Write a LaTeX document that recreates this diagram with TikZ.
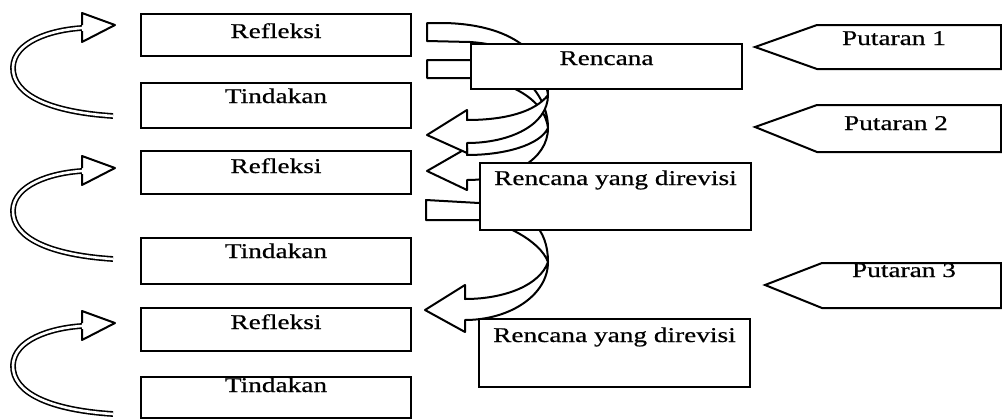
\documentclass[tikz,border=0pt]{standalone}
\usepackage{fontspec}
\setmainfont{Liberation Serif}[FakeStretch=1.3,FakeBold=0.6]
\usetikzlibrary{calc}
\begin{document}
\begin{tikzpicture}[x=1pt,y=-1pt,
  box/.style={draw, line width=2pt, fill=white, inner sep=0pt, anchor=north west},
  txt/.style={font=\fontsize{21pt}{24pt}\selectfont, inner sep=0pt, anchor=base},
  ol/.style={draw, line width=2pt, fill=white, line join=round},
  shaft/.style={line width=1.6pt, double=white, double distance=2.6pt}]
\useasboundingbox (0,0) rectangle (1002,418);

% left curved arrows (Tindakan -> Refleksi)
\foreach \d/\n in {0/1,143/2,298/3}{
  \coordinate (cs\n) at (113,116+\d);
  \coordinate (ce\n) at (82,28+\d);
  \draw[shaft] (cs\n) .. controls (50,112+\d) and (12,95+\d) .. (13,67+\d)
     .. controls (14,42+\d) and (50,30+\d) .. (ce\n);
  \path[ol] (82,25+\d) -- (82,13+\d) -- (115,25+\d) -- (82,42+\d) -- (82,31+\d);
}

% middle curved block arrows
\path[ol] (427,60) -- (470,60) .. controls (520,62) and (548,95) .. (548,128)
  .. controls (548,160) and (510,180) .. (467,180) -- (467,190) -- (427,171) -- (467,148) -- (467,155)
  .. controls (505,155) and (540,145) .. (548,128)
  .. controls (545,100) and (510,80) .. (470,78) -- (427,78) -- cycle;
\path[ol] (427,23) -- (445,23) .. controls (520,25) and (548,60) .. (548,95)
  .. controls (548,125) and (510,143) .. (467,143) -- (467,153) -- (427,135) -- (467,110) -- (467,120)
  .. controls (505,120) and (535,112) .. (548,95)
  .. controls (545,70) and (520,45) .. (470,42) -- (427,41) -- cycle;
\path[ol] (426,200) -- (479,203) .. controls (530,206) and (548,230) .. (548,262)
  .. controls (548,295) and (510,320) .. (465,320) -- (465,332) -- (425,310) -- (465,285) -- (465,299)
  .. controls (505,299) and (540,285) .. (548,262)
  .. controls (540,240) and (500,221) .. (479,220) -- (426,220) -- cycle;

% Putaran pentagons
\path[ol, line join=miter] (1001,25) -- (817,25) -- (755,47) -- (817,69) -- (1001,69) -- cycle;
\path[ol, line join=miter] (1001,105) -- (817,105) -- (755,127) -- (817,152) -- (1001,152) -- cycle;
\path[ol, line join=miter] (1001,263) -- (822,263) -- (765,285) -- (822,308) -- (1001,308) -- cycle;
\node[txt] (p1) at (894,45) {Putaran 1};
\node[txt] (p2) at (896,130) {Putaran 2};
\node[txt] (p3) at (904,277) {Putaran 3};

% left boxes
\node[box, minimum width=270pt, minimum height=42pt] (r1) at (140,13) {};
\node[box, minimum width=270pt, minimum height=45pt] (t1) at (140,82) {};
\node[box, minimum width=270pt, minimum height=43pt] (r2) at (140,150) {};
\node[box, minimum width=270pt, minimum height=46pt] (t2) at (140,237) {};
\node[box, minimum width=270pt, minimum height=43pt] (r3) at (140,307) {};
\node[box, minimum width=270pt, minimum height=41pt] (t3) at (140,376) {};
\node[txt] (r1t) at ($(r1.north)+(0,25)$) {Refleksi};
\node[txt] (t1t) at ($(t1.north)+(0,21)$) {Tindakan};
\node[txt] (r2t) at ($(r2.north)+(0,23)$) {Refleksi};
\node[txt] (t2t) at ($(t2.north)+(0,21)$) {Tindakan};
\node[txt] (r3t) at ($(r3.north)+(0,22)$) {Refleksi};
\node[txt] (t3t) at ($(t3.north)+(0,16)$) {Tindakan};

% plan boxes
\node[box, minimum width=271pt, minimum height=45pt] (pl) at (470,43) {};
\node[box, minimum width=271pt, minimum height=67pt] (rv1) at (479,162) {};
\node[box, minimum width=271pt, minimum height=68pt] (rv2) at (478,318) {};
\node[txt] (plt) at ($(pl.north)+(0,22)$) {Rencana};
\node[txt] (rv1t) at ($(rv1.north)+(0,23)$) {Rencana yang direvisi};
\node[txt] (rv2t) at ($(rv2.north)+(0,24)$) {Rencana yang direvisi};
\end{tikzpicture}
\end{document}
